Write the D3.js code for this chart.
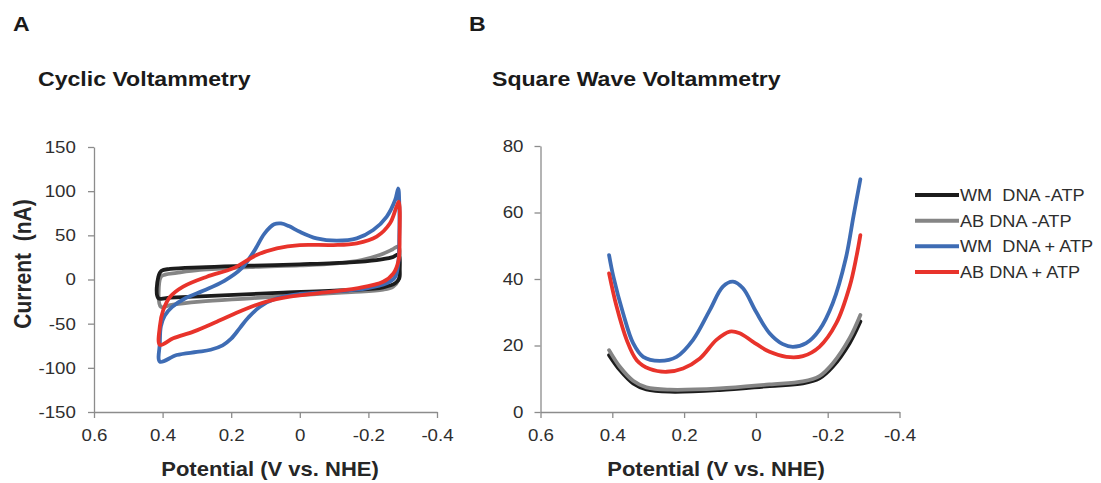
<!DOCTYPE html>
<html>
<head>
<meta charset="utf-8">
<script src="https://cdn.jsdelivr.net/npm/d3@7"></script>
<style>
  html, body { margin: 0; padding: 0; background: #fff; }
  svg { display: block; }
  text { font-family: "Liberation Sans", Arial, sans-serif; white-space: pre; }
</style>
</head>
<body>
<svg id="chart" width="1101" height="483"></svg>
<script>
// ---- data -------------------------------------------------------------
const panelLetters = ["A", "B"];
const panelTitles = ["Cyclic Voltammetry", "Square Wave Voltammetry"];
const xAxisTitle = "Potential (V vs. NHE)";
const yAxisTitle = "Current  (nA)";

const potentialTicks = [0.6, 0.4, 0.2, 0, -0.2, -0.4];
const cvCurrentTicks = [-150, -100, -50, 0, 50, 100, 150];
const swvCurrentTicks = [0, 20, 40, 60, 80];

const seriesNames = ["WM  DNA -ATP", "AB DNA -ATP", "WM  DNA + ATP", "AB DNA + ATP"];

// cyclic voltammograms: closed loops of [potential (V), current (nA)]
const cvWmNoAtp = [
  [0.4125, -21], [0.4125, 3], [0.403, 10], [0.378, 11.9], [0.291, 13.8], [0.145, 15.6],
  [0, 17.2], [-0.146, 19.4], [-0.224, 22], [-0.268, 25], [-0.288, 28], [-0.291, 11],
  [-0.29, 1.3], [-0.278, -4.3], [-0.243, -8.8], [-0.146, -11.9], [0.048, -14.9],
  [0.242, -18.3], [0.378, -20.6]
];
const cvAbNoAtp = [
  [0.405, -31], [0.405, 3], [0.393, 5.5], [0.359, 7.5], [0.291, 10.8], [0.145, 14],
  [0, 16], [-0.1, 18], [-0.18, 22], [-0.235, 28], [-0.27, 34], [-0.288, 37.5],
  [-0.291, 20], [-0.288, 0], [-0.272, -8], [-0.243, -11.5], [-0.15, -14.2], [-0.049, -16.4],
  [0.145, -21.3], [0.291, -25], [0.378, -28.9]
];
const cvWmAtp = [
  [0.408, -93], [0.408, -72], [0.405, -53], [0.394, -41], [0.372, -31], [0.335, -21.5],
  [0.28, -12.5], [0.22, -1.5], [0.17, 12.5], [0.135, 31], [0.103, 52], [0.075, 62.5],
  [0.055, 63.5], [0.032, 60.5], [0, 54], [-0.049, 46.6], [-0.108, 44], [-0.166, 46.6],
  [-0.214, 56], [-0.253, 71], [-0.278, 90], [-0.287, 103], [-0.29, 86], [-0.29, 48],
  [-0.287, 18], [-0.278, 3], [-0.253, -4.3], [-0.195, -10], [-0.098, -13.8], [0, -16.4],
  [0.067, -21.3], [0.116, -30.8], [0.15, -43], [0.175, -55], [0.2, -67], [0.225, -74.5],
  [0.26, -79.5], [0.3, -82], [0.359, -85.5]
];
const cvAbAtp = [
  [0.408, -74], [0.408, -53], [0.398, -34.5], [0.378, -19.5], [0.34, -8], [0.271, 3.2],
  [0.194, 12.7], [0.126, 27.7], [0.067, 35.3], [0, 39], [-0.098, 39], [-0.166, 41],
  [-0.224, 48.5], [-0.263, 63.6], [-0.282, 82.4], [-0.289, 88], [-0.291, 48],
  [-0.288, 22], [-0.273, 7], [-0.243, -2.5], [-0.166, -10], [-0.049, -15.6],
  [0.029, -19.5], [0.097, -25], [0.165, -34.5], [0.242, -47.8], [0.31, -59], [0.369, -66.6]
];

// square wave voltammograms: [potential (V), current (nA)]
const swvWmNoAtp = [
  [0.409, 17.1], [0.379, 12.6], [0.342, 8.6], [0.305, 6.8], [0.24, 6.1], [0.101, 6.6],
  [-0.038, 7.8], [-0.131, 8.6], [-0.177, 10.1], [-0.214, 13.6], [-0.261, 20.7], [-0.291, 27.2]
];
const swvAbNoAtp = [
  [0.409, 18.6], [0.379, 13.6], [0.342, 9.4], [0.305, 7.4], [0.24, 6.7], [0.101, 7.1],
  [-0.038, 8.3], [-0.131, 9.2], [-0.177, 10.8], [-0.214, 14.6], [-0.261, 22.2], [-0.291, 29.2]
];
const swvWmAtp = [
  [0.409, 47.2], [0.397, 40.7], [0.37, 29.7], [0.342, 20.7], [0.314, 16.6], [0.268, 15.4],
  [0.221, 16.6], [0.175, 21.7], [0.128, 30.7], [0.092, 37.7], [0.064, 39.2], [0.036, 37.2],
  [0, 30.2], [-0.038, 23.7], [-0.075, 20.4], [-0.103, 19.6], [-0.14, 20.7], [-0.177, 24.7],
  [-0.214, 32.7], [-0.25, 46], [-0.272, 59], [-0.291, 70]
];
const swvAbAtp = [
  [0.409, 41.7], [0.388, 31.7], [0.36, 21.7], [0.332, 15.6], [0.295, 12.9], [0.249, 12.1],
  [0.203, 13.1], [0.156, 16.1], [0.11, 21.7], [0.073, 24.2], [0.045, 23.7], [0.008, 21.1],
  [-0.038, 18.1], [-0.085, 16.6], [-0.131, 16.8], [-0.177, 19.6], [-0.224, 26.7],
  [-0.261, 37.7], [-0.28, 46.7], [-0.291, 53.2]
];

// ---- styling ----------------------------------------------------------
const colors = ["#1c1c1c", "#858585", "#3e6cb4", "#e8332b"];
const axisColor = "#8c8c8c";
const textColor = "#2e2e2e";
const stretch = 1.1;   // horizontal glyph scale used for all labels
const lineWidth = 3.8;

const svg = d3.select("#chart");

function label(x, y, str, opts = {}) {
  return svg.append("text")
    .attr("transform", `translate(${x},${y}) scale(${stretch},1)`)
    .attr("text-anchor", opts.anchor || "start")
    .attr("font-size", opts.size || 17)
    .attr("font-weight", opts.weight || "normal")
    .attr("fill", opts.fill || textColor)
    .text(str);
}

// plain hyphen-minus for negative tick values
const plain = d => String(d);

function drawAxes(x, y, xTicks, yTicks, yPad) {
  const [x0] = x.range();
  const [y0] = y.range();
  const gx = svg.append("g").attr("transform", `translate(0,${y0})`)
    .call(d3.axisBottom(x).tickValues(xTicks).tickSize(6).tickSizeOuter(0)
      .tickPadding(11).tickFormat(plain));
  const gy = svg.append("g").attr("transform", `translate(${x0},0)`)
    .call(d3.axisLeft(y).tickValues(yTicks).tickSize(6).tickSizeOuter(0)
      .tickPadding(yPad).tickFormat(plain));
  [gx, gy].forEach(g => {
    g.select(".domain").attr("stroke", axisColor).attr("stroke-width", 1.3);
    g.selectAll(".tick line").attr("stroke", axisColor).attr("stroke-width", 1.3);
    g.selectAll(".tick text")
      .attr("fill", textColor)
      .attr("font-size", 17)
      .attr("font-family", '"Liberation Sans", Arial, sans-serif')
      .attr("transform", `scale(${stretch},1)`);
  });
}

// ---- panel A: cyclic voltammetry ----------------------------------------
const xA = d3.scaleLinear().domain([0.6, -0.4]).range([94, 437]);
const yA = d3.scaleLinear().domain([-150, 150]).range([412, 147]);
drawAxes(xA, yA, potentialTicks, cvCurrentTicks, 10.5);

const loop = d3.line().x(d => xA(d[0])).y(d => yA(d[1]))
  .curve(d3.curveCatmullRomClosed.alpha(0.5));
[[cvAbNoAtp, 1], [cvWmNoAtp, 0], [cvWmAtp, 2], [cvAbAtp, 3]].forEach(([data, idx]) => {
  svg.append("path").datum(data)
    .attr("d", loop)
    .attr("fill", "none")
    .attr("stroke", colors[idx])
    .attr("stroke-width", lineWidth)
    .attr("stroke-linejoin", "round");
});

// ---- panel B: square wave voltammetry -----------------------------------
const xB = d3.scaleLinear().domain([0.6, -0.4]).range([540.5, 899.5]);
const yB = d3.scaleLinear().domain([0, 80]).range([412, 146]);
drawAxes(xB, yB, potentialTicks, swvCurrentTicks, 9.5);

const trace = d3.line().x(d => xB(d[0])).y(d => yB(d[1]))
  .curve(d3.curveCatmullRom.alpha(0.5));
[swvWmNoAtp, swvAbNoAtp, swvWmAtp, swvAbAtp].forEach((data, k) => {
  svg.append("path").datum(data)
    .attr("d", trace)
    .attr("fill", "none")
    .attr("stroke", colors[k])
    .attr("stroke-width", lineWidth)
    .attr("stroke-linecap", "round")
    .attr("stroke-linejoin", "round");
});

// ---- legend ------------------------------------------------------------
const legendY = d3.scalePoint().domain(seriesNames).range([195, 272]);
seriesNames.forEach((name, k) => {
  const ly = legendY(name);
  svg.append("line")
    .attr("x1", 915).attr("x2", 959)
    .attr("y1", ly).attr("y2", ly)
    .attr("stroke", colors[k]).attr("stroke-width", 4);
  label(960, ly + 6, name, { size: 16.5 });
});

// ---- titles ------------------------------------------------------------
label(13, 31, panelLetters[0], { size: 21, weight: "bold", fill: "#1a1a1a" });
label(469, 31, panelLetters[1], { size: 21, weight: "bold", fill: "#1a1a1a" });
label(38, 86, panelTitles[0], { size: 21, weight: "bold", fill: "#1a1a1a" });
label(492, 86, panelTitles[1], { size: 21, weight: "bold", fill: "#1a1a1a" });
label(270, 476, xAxisTitle, { size: 20, weight: "bold", anchor: "middle", fill: "#262626" });
label(716, 476, xAxisTitle, { size: 20, weight: "bold", anchor: "middle", fill: "#262626" });

svg.append("text")
  .attr("transform", `translate(31,264) rotate(-90) scale(1,${stretch})`)
  .attr("text-anchor", "middle")
  .attr("font-size", 21)
  .attr("font-weight", "bold")
  .attr("fill", "#262626")
  .text(yAxisTitle);
</script>
</body>
</html>
